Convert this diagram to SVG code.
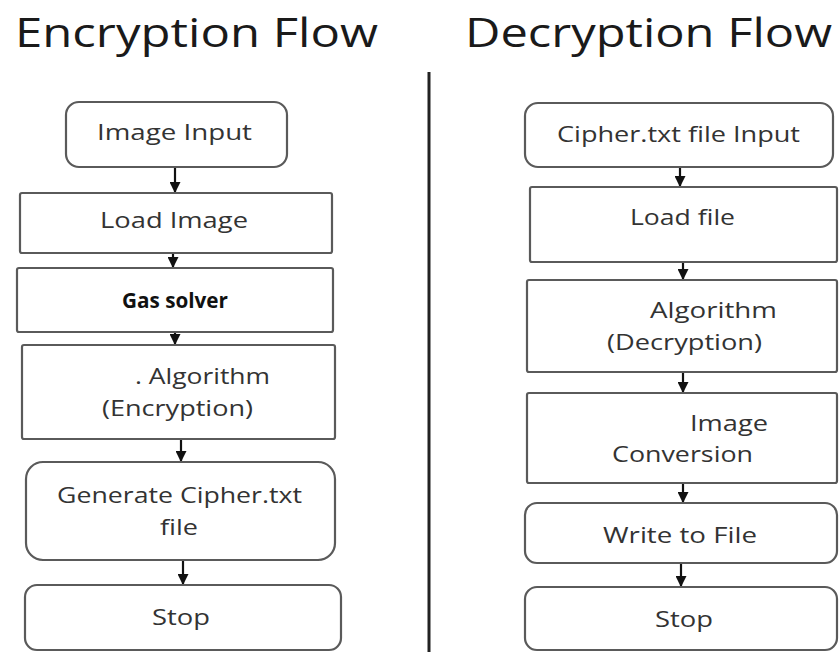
<svg xmlns="http://www.w3.org/2000/svg" width="839" height="652" viewBox="0 0 839 652">
<style>
.box{fill:#fff;stroke:#5a5a5a;stroke-width:2.2}
.t{font-family:"Open Sans","Noto Sans",sans-serif;font-size:21px;fill:#333;text-anchor:start}
.title{font-family:"Open Sans","Noto Sans",sans-serif;font-size:41px;fill:#1a1a1a}
.b{font-family:"Liberation Sans Narrow","Open Sans",sans-serif;font-size:21px;font-weight:bold;fill:#111}
.c{stroke:#111;stroke-width:2.2;fill:none}
</style>
<defs>
<marker id="ah2" viewBox="0 0 10 10" refX="9" refY="5" markerWidth="11" markerHeight="11" markerUnits="userSpaceOnUse" orient="auto">
<path d="M0,0 L10,5 L0,10 z" fill="#111"/>
</marker>
</defs>
<rect width="839" height="652" fill="#fff"/>
<g id="titles">
<text class="title" x="15" y="47" textLength="363" lengthAdjust="spacingAndGlyphs">Encryption Flow</text>
<text class="title" x="465" y="47" textLength="367" lengthAdjust="spacingAndGlyphs">Decryption Flow</text>
</g>
<line x1="429" y1="72" x2="429" y2="652" stroke="#222" stroke-width="3"/>
<g id="connectors">
<line class="c" x1="175" y1="167" x2="175" y2="192" marker-end="url(#ah2)"/>
<line class="c" x1="173" y1="253" x2="173" y2="267" marker-end="url(#ah2)"/>
<line class="c" x1="175" y1="332" x2="175" y2="344" marker-end="url(#ah2)"/>
<line class="c" x1="181" y1="439" x2="181" y2="461" marker-end="url(#ah2)"/>
<line class="c" x1="183" y1="560" x2="183" y2="584" marker-end="url(#ah2)"/>
<line class="c" x1="680" y1="167" x2="680" y2="186" marker-end="url(#ah2)"/>
<line class="c" x1="683" y1="262" x2="683" y2="279" marker-end="url(#ah2)"/>
<line class="c" x1="683" y1="372" x2="683" y2="392" marker-end="url(#ah2)"/>
<line class="c" x1="683" y1="483" x2="683" y2="502" marker-end="url(#ah2)"/>
<line class="c" x1="681" y1="563" x2="681" y2="586" marker-end="url(#ah2)"/>
</g>
<g id="enc-input">
<rect class="box" x="66" y="102" width="221" height="65" rx="13"/>
<text class="t" x="97" y="140" textLength="155" lengthAdjust="spacingAndGlyphs">Image Input</text>
</g>
<g id="enc-load">
<rect class="box" x="20" y="193" width="312" height="60" rx="2"/>
<text class="t" x="100" y="228" textLength="148" lengthAdjust="spacingAndGlyphs">Load Image</text>
</g>
<g id="enc-gas">
<rect class="box" x="17" y="268" width="316" height="64" rx="2"/>
<text class="b" x="122" y="308" textLength="106" lengthAdjust="spacingAndGlyphs">Gas solver</text>
</g>
<g id="enc-alg">
<rect class="box" x="22" y="345" width="313" height="94" rx="2"/>
<text class="t" x="135" y="384" textLength="135" lengthAdjust="spacingAndGlyphs">. Algorithm</text>
<text class="t" x="102" y="416" textLength="151" lengthAdjust="spacingAndGlyphs">(Encryption)</text>
</g>
<g id="enc-gen">
<rect class="box" x="26" y="462" width="309" height="98" rx="17"/>
<text class="t" x="57" y="503" textLength="245" lengthAdjust="spacingAndGlyphs">Generate Cipher.txt</text>
<text class="t" x="160" y="535" textLength="38" lengthAdjust="spacingAndGlyphs">file</text>
</g>
<g id="enc-stop">
<rect class="box" x="25" y="585" width="316" height="65" rx="12"/>
<text class="t" x="152" y="625" textLength="58" lengthAdjust="spacingAndGlyphs">Stop</text>
</g>
<g id="dec-input">
<rect class="box" x="525" y="103" width="308" height="64" rx="13"/>
<text class="t" x="557" y="142" textLength="243" lengthAdjust="spacingAndGlyphs">Cipher.txt file Input</text>
</g>
<g id="dec-load">
<rect class="box" x="530" y="187" width="307" height="75" rx="2"/>
<text class="t" x="630" y="225" textLength="105" lengthAdjust="spacingAndGlyphs">Load file</text>
</g>
<g id="dec-alg">
<rect class="box" x="527" y="280" width="310" height="92" rx="2"/>
<text class="t" x="650" y="318" textLength="127" lengthAdjust="spacingAndGlyphs">Algorithm</text>
<text class="t" x="607" y="350" textLength="155" lengthAdjust="spacingAndGlyphs">(Decryption)</text>
</g>
<g id="dec-conv">
<rect class="box" x="527" y="393" width="310" height="90" rx="2"/>
<text class="t" x="690" y="431" textLength="78" lengthAdjust="spacingAndGlyphs">Image</text>
<text class="t" x="612" y="462" textLength="141" lengthAdjust="spacingAndGlyphs">Conversion</text>
</g>
<g id="dec-write">
<rect class="box" x="525" y="503" width="312" height="60" rx="12"/>
<text class="t" x="603" y="543" textLength="154" lengthAdjust="spacingAndGlyphs">Write to File</text>
</g>
<g id="dec-stop">
<rect class="box" x="525" y="587" width="312" height="63" rx="12"/>
<text class="t" x="655" y="627" textLength="58" lengthAdjust="spacingAndGlyphs">Stop</text>
</g>
</svg>
